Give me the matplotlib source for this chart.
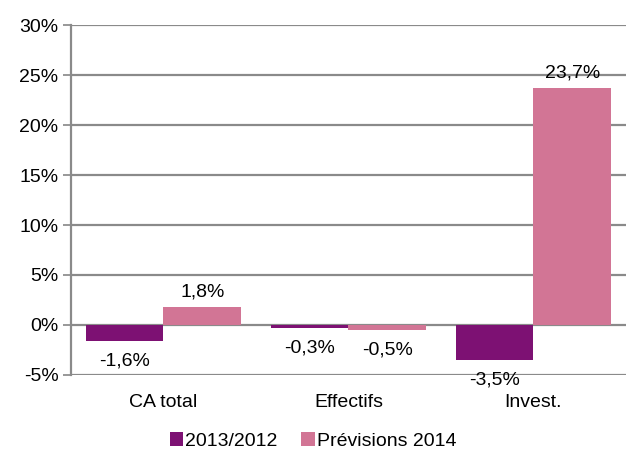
import numpy as np
import matplotlib.pyplot as plt

plt.rcParams['font.family'] = ['Liberation Sans', 'DejaVu Sans']

categories = ['CA total', 'Effectifs', 'Invest.']
series_names = ['2013/2012', 'Prévisions 2014']
v_2013 = [-1.6, -0.3, -3.5]
v_2014 = [1.8, -0.5, 23.7]
colors = ['#7D1173', '#D27595']

fig = plt.figure(figsize=(6.26, 4.5), dpi=100)
ax = fig.add_axes([0.1134, 0.1667, 0.8866, 0.7777])

x = np.arange(len(categories))
w = 0.42
b1 = ax.bar(x - w / 2, v_2013, w, color=colors[0], label=series_names[0], zorder=3)
b2 = ax.bar(x + w / 2, v_2014, w, color=colors[1], label=series_names[1], zorder=3)

# data labels, comma as decimal separator
for bars, vals in [(b1, v_2013), (b2, v_2014)]:
    for r, v in zip(bars, vals):
        txt = '{:.1f}%'.format(v).replace('.', ',')
        cx = r.get_x() + r.get_width() / 2
        if v >= 0:
            ax.annotate(txt, (cx, v), xytext=(0, 5), textcoords='offset points',
                        ha='center', va='bottom', fontsize=14)
        else:
            ax.annotate(txt, (cx, v), xytext=(0, -8), textcoords='offset points',
                        ha='center', va='top', fontsize=14)

ax.set_xlim(-0.5, 2.5)
ax.set_ylim(-5, 30)
ax.set_yticks(np.arange(-5, 31, 5))
ax.set_yticklabels(['{}%'.format(t) for t in range(-5, 31, 5)], fontsize=14)
ax.set_xticks(x)
ax.set_xticklabels(categories, fontsize=14)
ax.tick_params(axis='x', length=0, pad=14)
ax.tick_params(axis='y', length=6, width=1.2, color='#868686', pad=3)
ax.yaxis.grid(True, color='#8a8a8a', linewidth=1.6, zorder=0)
ax.set_axisbelow(True)
for s in ['top', 'right', 'bottom']:
    ax.spines[s].set_visible(False)
ax.spines['left'].set_color('#8a8a8a')
ax.spines['left'].set_linewidth(1.6)

fig.legend(loc='center', bbox_to_anchor=(0.5, 0.02), ncol=2, frameon=False,
           fontsize=14, handlelength=0.7, handleheight=0.7, handletextpad=0.1,
           columnspacing=1.2)

fig.savefig('out.png', dpi=100)
